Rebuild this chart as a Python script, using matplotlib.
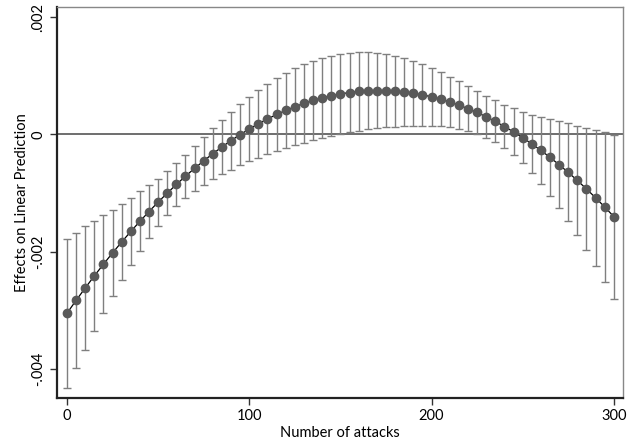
import numpy as np
import matplotlib
matplotlib.use("Agg")
import matplotlib.pyplot as plt

# number of attacks (margins evaluated every 5)
attacks = list(range(0, 305, 5))

# estimated effect
effect = [-0.00305, -0.002831, -0.002619, -0.002413, -0.002214, -0.002021,
          -0.001835, -0.001655, -0.001482, -0.001315, -0.001154, -0.001001,
          -0.000853, -0.000712, -0.000578, -0.00045, -0.000328, -0.000213,
          -0.000105, -0.000003, 0.000093, 0.000182, 0.000264, 0.000341,
          0.00041, 0.000473, 0.00053, 0.00058, 0.000624, 0.000661, 0.000692,
          0.000716, 0.000734, 0.000745, 0.00075, 0.000748, 0.00074, 0.000725,
          0.000704, 0.000677, 0.000642, 0.000602, 0.000555, 0.000501,
          0.000441, 0.000375, 0.000302, 0.000222, 0.000136, 0.000044,
          -0.000055, -0.00016, -0.000272, -0.000391, -0.000516, -0.000647,
          -0.000785, -0.000929, -0.00108, -0.001237, -0.001401]

# half width of the 95% CI
half_ci = [0.001268, 0.001156, 0.00105, 0.000933, 0.000835, 0.00074,
           0.000654, 0.000568, 0.00051, 0.00045, 0.0004, 0.000372,
           0.00036, 0.000367, 0.000383, 0.000406, 0.000434, 0.000464,
           0.000495, 0.000525, 0.000553, 0.00058, 0.000604, 0.000625,
           0.000643, 0.000658, 0.00067, 0.000679, 0.000684, 0.000686,
           0.000684, 0.000679, 0.00067, 0.000658, 0.000643, 0.000625,
           0.000604, 0.00058, 0.000553, 0.000525, 0.000495, 0.000464,
           0.000434, 0.000406, 0.000383, 0.000367, 0.000356, 0.000358,
           0.00037, 0.0004, 0.000437, 0.000494, 0.000573, 0.00066,
           0.000739, 0.000835, 0.000938, 0.001045, 0.00116, 0.00128, 0.0014]

xticks = [0, 100, 200, 300]
yticks = [0.002, 0, -0.002, -0.004]
ytick_labels = [".002", "0", "-.002", "-.004"]

plt.rcParams['font.family'] = ['Lato', 'DejaVu Sans']

fig = plt.figure(figsize=(6.39, 4.44), dpi=100)
ax = fig.add_axes([0.0887, 0.1036, 0.8867, 0.88])

x = np.array(attacks)
y = np.array(effect)
h = np.array(half_ci)

ax.axhline(0, color='#555555', lw=1.2, zorder=1)
ax.errorbar(x, y, yerr=h, fmt='none', ecolor='#7f7f7f', elinewidth=1.0,
            capsize=3, capthick=1.0, zorder=2)
ax.plot(x, y, color='black', lw=0.9, zorder=3)
ax.plot(x, y, 'o', color='#595959', ms=6, mec='#595959', zorder=4)

ax.set_xlim(-5.65, 305.2)
ax.set_ylim(-0.004496, 0.00217)
ax.set_xticks(xticks)
ax.set_xticklabels([str(t) for t in xticks], fontsize=10.5)
ax.set_yticks(yticks)
ax.set_yticklabels(ytick_labels, fontsize=10.5, rotation=90, va='center')
ax.tick_params(direction='out', length=5, width=1, color='#333333', pad=3)

for side in ['left', 'bottom']:
    ax.spines[side].set_color('#222222')
    ax.spines[side].set_linewidth(1.6)
for side in ['top', 'right']:
    ax.spines[side].set_color('#888888')
    ax.spines[side].set_linewidth(1.0)

ax.set_xlabel('Number of attacks', fontsize=10.5, labelpad=2)
ax.set_ylabel('Effects on Linear Prediction', fontsize=10.5, labelpad=2)

fig.savefig('out.png', dpi=100)
